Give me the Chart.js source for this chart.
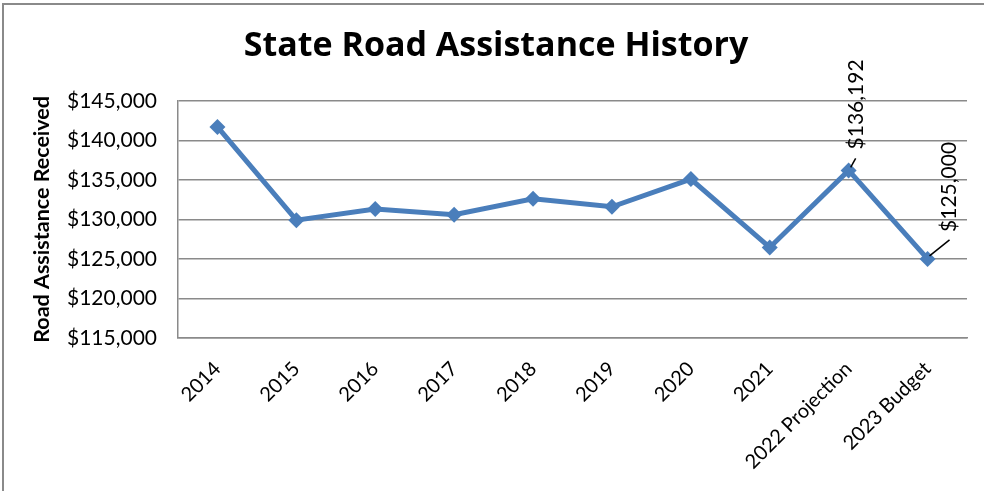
<!DOCTYPE html>
<html>
<head>
<meta charset="utf-8">
<script src="https://cdn.jsdelivr.net/npm/chart.js@4/dist/chart.umd.min.js"></script>
<style>
  html, body { margin: 0; padding: 0; background: #ffffff; }
  #wrap { width: 984px; height: 491px; position: relative; }
</style>
</head>
<body>
<div id="wrap"><canvas id="c" width="984" height="491"></canvas></div>
<script>
const categories = ["2014", "2015", "2016", "2017", "2018", "2019", "2020", "2021", "2022 Projection", "2023 Budget"];
const assistance = [141700, 129900, 131300, 130600, 132600, 131600, 135100, 126450, 136192, 125000];
const labelledPoints = [8, 9];
const yMin = 115000, yMax = 145000, yStep = 5000;
const chartTitle = "State Road Assistance History";
const yTitle = "Road Assistance Received";

const FONT = "Lato, 'Open Sans', sans-serif";
const TITLE_FONT = "'Open Sans', Lato, sans-serif";
const fmt = v => "$" + v.toLocaleString("en-US");

const framePlugin = {
  id: "frame",
  beforeDraw(chart) {
    const ctx = chart.ctx;
    ctx.save();
    ctx.fillStyle = "#ffffff";
    ctx.fillRect(0, 0, chart.width, chart.height);
    ctx.strokeStyle = "#8a8a8a";
    ctx.lineWidth = 2;
    ctx.beginPath();
    ctx.moveTo(3, chart.height);
    ctx.lineTo(3, 4);
    ctx.lineTo(chart.width, 4);
    ctx.stroke();
    ctx.restore();
  }
};

const labelOffsets = { 8: { line: [2, -3, 7, -12], text: [8, -21] }, 9: { line: [2, -3, 22, -19], text: [22, -27] } };

const dataLabelPlugin = {
  id: "dataLabels",
  afterDatasetsDraw(chart) {
    const ctx = chart.ctx;
    const meta = chart.getDatasetMeta(0);
    ctx.save();
    labelledPoints.forEach(i => {
      const pt = meta.data[i];
      const o = labelOffsets[i];
      ctx.strokeStyle = "#000000";
      ctx.lineWidth = 1.5;
      ctx.beginPath();
      ctx.moveTo(pt.x + o.line[0], pt.y + o.line[1]);
      ctx.lineTo(pt.x + o.line[2], pt.y + o.line[3]);
      ctx.stroke();
      ctx.save();
      ctx.translate(pt.x + o.text[0], pt.y + o.text[1]);
      ctx.rotate(-Math.PI / 2);
      ctx.fillStyle = "#000000";
      ctx.font = "21px " + FONT;
      ctx.textAlign = "left";
      ctx.textBaseline = "middle";
      ctx.fillText(fmt(chart.data.datasets[0].data[i]), 0, 0);
      ctx.restore();
    });
    ctx.restore();
  }
};

new Chart(document.getElementById("c"), {
  type: "line",
  data: {
    labels: categories,
    datasets: [{
      data: assistance,
      borderColor: "#4a7ebb",
      backgroundColor: "#4a7ebb",
      borderWidth: 5,
      pointStyle: "rectRot",
      pointRadius: 8,
      pointHoverRadius: 8,
      pointBorderWidth: 0,
      tension: 0
    }]
  },
  options: {
    responsive: false,
    animation: false,
    devicePixelRatio: 1,
    layout: { padding: { left: 25, right: 17, top: 0, bottom: 0 } },
    plugins: {
      legend: { display: false },
      tooltip: { enabled: false },
      title: {
        display: true,
        text: chartTitle,
        color: "#000000",
        font: { family: TITLE_FONT, size: 34, weight: "bold", lineHeight: 1.2 },
        padding: { top: 26, bottom: 34 }
      }
    },
    scales: {
      x: {
        offset: true,
        grid: { display: false, drawTicks: false, tickLength: 0 },
        border: { display: true, color: "#8a8a8a", width: 1.5 },
        ticks: {
          color: "#000000",
          font: { family: FONT, size: 20 },
          maxRotation: 45,
          minRotation: 45,
          padding: 19,
          autoSkip: false
        },
        afterFit(s) { s.height = 153; }
      },
      y: {
        min: yMin,
        max: yMax,
        grid: { color: "#8a8a8a", lineWidth: 1.5, drawTicks: false, tickLength: 0 },
        border: { display: true, color: "#8a8a8a", width: 1.5 },
        ticks: {
          stepSize: yStep,
          color: "#000000",
          font: { family: FONT, size: 21 },
          padding: 21,
          callback: v => fmt(v)
        },
        title: {
          display: true,
          text: yTitle,
          color: "#000000",
          font: { family: FONT, size: 21.5, weight: "bold", lineHeight: 1.2 },
          padding: { top: 4, bottom: 0 }
        },
        afterFit(s) { s.width = 153; }
      }
    }
  },
  plugins: [framePlugin, dataLabelPlugin]
});
</script>
</body>
</html>
